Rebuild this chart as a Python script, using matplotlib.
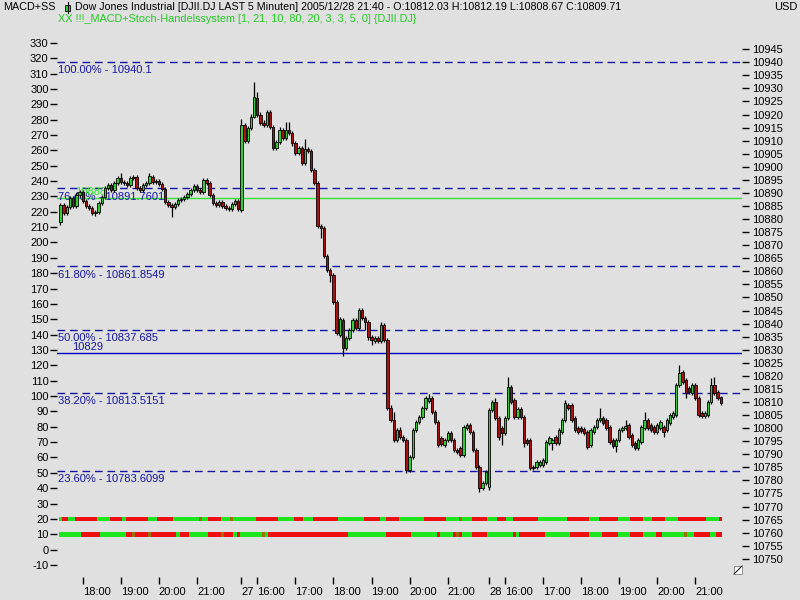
import numpy as np
import matplotlib
matplotlib.use("Agg")
import matplotlib.pyplot as plt
from matplotlib.patches import Rectangle
from matplotlib.lines import Line2D

# ---- price data, 5 minute bars (27.12 afternoon .. 28.12 21:40) ----
bar_open = [
    # day 1
    10878.9, 10885.4, 10882.3, 10884.6, 10888.1, 10885.0, 10889.2, 10890.4, 10886.9, 10885.0,
    10884.2, 10882.3, 10882.7, 10886.2, 10888.5, 10891.9, 10893.0, 10891.1, 10893.8, 10895.7,
    10894.2, 10893.8, 10893.0, 10895.7, 10896.1, 10891.9, 10891.1, 10893.0, 10893.8, 10896.1,
    10894.2, 10894.6, 10893.4, 10891.5, 10886.5, 10885.4, 10884.6, 10885.8, 10887.3, 10887.7,
    10888.5, 10889.6, 10891.1, 10892.7, 10891.1, 10890.4, 10895.0, 10893.8, 10889.2, 10886.2,
    10885.4, 10886.5, 10885.0, 10884.2, 10883.9, 10885.8, 10886.9,
    # day 2
    10883.5, 10916.0, 10909.9, 10914.9, 10919.1, 10926.3, 10919.8, 10916.8, 10916.0, 10921.0,
    10915.2, 10907.2, 10909.5, 10914.1, 10911.0, 10914.1, 10913.0, 10909.1, 10905.3, 10907.2,
    10901.5, 10906.8, 10906.1, 10898.8, 10893.8, 10877.4, 10876.6, 10865.9, 10860.5, 10858.6,
    10848.3, 10835.6, 10841.4, 10830.7, 10834.5, 10837.6, 10841.4, 10838.3, 10845.2, 10842.2,
    10840.6, 10834.9, 10833.4, 10834.5, 10833.4, 10839.5, 10833.7, 10807.7, 10803.1, 10795.5,
    10799.3, 10796.6, 10795.5, 10784.0, 10789.0, 10799.3, 10802.4, 10804.3, 10807.7, 10810.4,
    10811.5, 10806.2, 10802.4, 10796.2, 10793.5, 10795.5, 10798.1, 10795.5, 10791.6, 10792.4,
    10789.7, 10800.1, 10801.2, 10798.5, 10791.6, 10785.1, 10777.1, 10779.0,
    # day 3
    10777.5, 10806.9, 10810.0, 10803.9, 10800.1, 10798.1, 10803.9, 10815.7, 10810.8, 10804.3,
    10807.3, 10804.3, 10795.5, 10795.5, 10785.1, 10785.1, 10785.9, 10785.9, 10787.0, 10794.3,
    10794.3, 10796.6, 10794.3, 10798.5, 10803.1, 10808.9, 10808.9, 10803.9, 10800.1, 10800.1,
    10799.7, 10798.5, 10793.5, 10798.5, 10800.4, 10803.1, 10803.9, 10803.1, 10800.4, 10795.5,
    10793.2, 10795.5, 10799.3, 10800.1, 10801.2, 10797.4, 10794.3, 10792.4, 10794.7, 10800.1,
    10803.1, 10801.2, 10800.4, 10798.5, 10800.1, 10800.4, 10799.3, 10802.0, 10804.3, 10805.0,
    10816.5, 10821.5, 10818.4, 10815.4, 10813.4, 10816.5, 10811.5, 10805.8, 10804.7, 10805.0,
    10810.0, 10816.5, 10813.8, 10812.03,
]
bar_high = [
    10886.2, 10886.2, 10885.4, 10888.8, 10888.8, 10890.0, 10891.1, 10891.1, 10887.7, 10885.8,
    10885.0, 10883.5, 10886.9, 10889.2, 10892.7, 10893.8, 10893.8, 10894.6, 10896.5, 10897.6,
    10895.0, 10894.6, 10896.5, 10896.9, 10896.9, 10892.7, 10893.8, 10894.6, 10897.6, 10896.9,
    10895.3, 10895.3, 10894.2, 10892.3, 10887.3, 10886.2, 10886.5, 10888.1, 10888.5, 10889.2,
    10890.4, 10891.9, 10893.4, 10893.4, 10891.9, 10895.7, 10895.7, 10894.6, 10890.0, 10886.9,
    10887.3, 10887.3, 10885.8, 10885.0, 10886.5, 10887.7, 10887.7,
    10918.3, 10916.8, 10915.6, 10920.2, 10932.5, 10928.6, 10921.0, 10917.9, 10921.8, 10921.8,
    10916.0, 10910.3, 10915.2, 10914.9, 10917.2, 10917.2, 10913.7, 10909.9, 10908.0, 10908.0,
    10910.7, 10907.6, 10906.8, 10899.6, 10894.6, 10878.1, 10877.4, 10866.7, 10861.3, 10859.4,
    10849.0, 10842.5, 10842.2, 10835.3, 10838.3, 10842.2, 10842.2, 10846.0, 10846.0, 10842.9,
    10841.4, 10835.6, 10835.3, 10835.3, 10840.6, 10840.2, 10834.5, 10808.9, 10806.2, 10800.1,
    10800.4, 10797.4, 10796.2, 10789.7, 10800.1, 10803.1, 10805.0, 10808.5, 10812.3, 10813.1,
    10812.3, 10806.9, 10803.1, 10797.0, 10796.2, 10798.9, 10798.9, 10796.2, 10792.4, 10793.2,
    10801.2, 10802.0, 10802.0, 10799.3, 10792.4, 10785.9, 10779.8, 10784.0,
    10807.7, 10810.8, 10811.5, 10804.7, 10800.8, 10804.7, 10819.6, 10816.5, 10811.5, 10808.1,
    10808.1, 10805.0, 10796.2, 10796.2, 10785.9, 10787.8, 10787.8, 10788.6, 10795.5, 10797.0,
    10796.2, 10797.4, 10800.1, 10803.9, 10810.8, 10809.6, 10809.6, 10804.7, 10800.8, 10800.8,
    10800.4, 10799.3, 10800.1, 10801.2, 10803.9, 10807.7, 10804.7, 10803.9, 10801.2, 10796.2,
    10796.2, 10800.1, 10800.8, 10803.1, 10802.0, 10798.1, 10795.1, 10796.2, 10801.2, 10806.2,
    10803.9, 10802.0, 10801.2, 10802.0, 10803.1, 10801.2, 10803.9, 10805.8, 10806.6, 10817.3,
    10824.2, 10822.2, 10819.2, 10816.1, 10817.3, 10817.3, 10812.3, 10806.6, 10806.6, 10810.8,
    10819.2, 10819.6, 10814.6, 10812.19,
]
bar_low = [
    10877.7, 10881.6, 10881.6, 10883.9, 10884.2, 10884.2, 10888.5, 10886.2, 10884.2, 10883.5,
    10881.6, 10881.2, 10882.0, 10885.4, 10887.7, 10891.1, 10890.4, 10890.4, 10893.0, 10893.4,
    10893.0, 10892.3, 10892.3, 10895.0, 10891.1, 10890.4, 10890.4, 10892.3, 10893.0, 10893.4,
    10893.4, 10892.7, 10890.8, 10885.8, 10884.6, 10880.8, 10883.9, 10885.0, 10886.5, 10886.9,
    10887.7, 10888.8, 10890.4, 10890.4, 10889.6, 10889.6, 10893.0, 10888.5, 10885.4, 10884.6,
    10884.6, 10884.2, 10883.5, 10883.1, 10883.1, 10885.0, 10883.1,
    10882.7, 10909.1, 10909.1, 10914.1, 10918.7, 10919.1, 10916.0, 10915.2, 10915.2, 10914.5,
    10906.4, 10906.4, 10908.7, 10910.3, 10910.3, 10912.2, 10908.0, 10904.5, 10904.5, 10900.7,
    10900.7, 10905.3, 10898.0, 10893.0, 10876.6, 10872.8, 10865.1, 10859.8, 10855.9, 10847.5,
    10835.6, 10834.9, 10827.6, 10829.9, 10833.7, 10836.8, 10837.6, 10837.6, 10841.4, 10837.6,
    10833.7, 10831.8, 10832.6, 10832.6, 10832.6, 10833.0, 10806.9, 10802.4, 10794.7, 10794.7,
    10795.8, 10794.7, 10782.8, 10783.2, 10788.2, 10798.5, 10801.6, 10803.5, 10806.9, 10809.6,
    10805.4, 10801.6, 10792.8, 10793.2, 10792.8, 10794.7, 10794.7, 10790.9, 10790.1, 10789.0,
    10789.0, 10799.3, 10797.8, 10790.9, 10784.4, 10775.6, 10776.3, 10778.2,
    10776.3, 10806.2, 10803.1, 10795.5, 10793.5, 10797.4, 10803.1, 10809.2, 10803.5, 10803.5,
    10803.5, 10792.8, 10793.5, 10784.0, 10784.0, 10784.4, 10785.1, 10785.1, 10786.3, 10793.5,
    10791.6, 10793.5, 10793.5, 10797.8, 10802.4, 10806.9, 10802.4, 10798.5, 10797.8, 10798.1,
    10797.4, 10792.0, 10792.8, 10797.8, 10799.7, 10802.4, 10801.2, 10799.3, 10793.9, 10792.4,
    10790.9, 10794.7, 10798.5, 10799.3, 10795.8, 10792.8, 10791.6, 10791.6, 10793.9, 10799.3,
    10799.3, 10798.5, 10797.8, 10797.8, 10799.3, 10796.6, 10798.5, 10801.2, 10803.5, 10804.3,
    10815.7, 10816.9, 10811.5, 10813.1, 10812.7, 10810.8, 10804.3, 10803.9, 10803.9, 10804.3,
    10809.2, 10812.7, 10810.8, 10808.67,
]
bar_close = [
    10885.4, 10882.3, 10884.6, 10888.1, 10885.0, 10889.2, 10890.4, 10886.9, 10885.0, 10884.2,
    10882.3, 10882.7, 10886.2, 10888.5, 10891.9, 10893.0, 10891.1, 10893.8, 10895.7, 10894.2,
    10893.8, 10893.0, 10895.7, 10896.1, 10891.9, 10891.1, 10893.0, 10893.8, 10896.5, 10894.2,
    10894.6, 10893.4, 10891.5, 10886.5, 10885.4, 10884.6, 10885.8, 10887.3, 10887.7, 10888.5,
    10889.6, 10891.1, 10892.7, 10891.1, 10890.4, 10895.0, 10893.8, 10889.2, 10886.2, 10885.4,
    10886.5, 10885.0, 10884.2, 10883.9, 10885.8, 10886.9, 10883.9,
    10916.0, 10909.9, 10914.9, 10919.1, 10926.7, 10919.8, 10916.8, 10916.0, 10921.0, 10915.2,
    10907.2, 10909.5, 10914.1, 10911.0, 10914.1, 10913.0, 10909.1, 10905.3, 10907.2, 10901.5,
    10906.8, 10906.1, 10898.8, 10893.8, 10877.4, 10876.6, 10865.9, 10860.5, 10858.6, 10848.3,
    10836.4, 10841.8, 10830.7, 10834.5, 10837.6, 10841.4, 10838.3, 10845.2, 10842.2, 10840.6,
    10834.9, 10833.7, 10834.5, 10833.4, 10839.5, 10833.7, 10807.7, 10803.1, 10795.5, 10799.3,
    10796.6, 10795.5, 10784.0, 10789.0, 10799.3, 10802.4, 10804.3, 10807.7, 10811.5, 10811.5,
    10806.2, 10802.4, 10793.5, 10793.9, 10795.5, 10798.1, 10795.5, 10791.6, 10790.9, 10789.7,
    10800.4, 10801.2, 10798.5, 10791.6, 10785.1, 10777.1, 10779.0, 10783.2,
    10806.9, 10810.0, 10803.9, 10796.6, 10798.1, 10803.9, 10815.7, 10810.0, 10804.3, 10807.3,
    10804.3, 10794.3, 10794.3, 10784.7, 10784.7, 10787.0, 10787.0, 10787.8, 10794.7, 10796.2,
    10795.5, 10794.3, 10799.3, 10803.1, 10809.6, 10807.7, 10803.1, 10799.3, 10798.5, 10798.9,
    10798.1, 10792.8, 10799.3, 10800.4, 10803.1, 10803.9, 10802.0, 10800.1, 10794.7, 10793.2,
    10795.5, 10799.3, 10800.1, 10800.8, 10796.6, 10793.5, 10792.4, 10795.5, 10800.4, 10803.1,
    10800.1, 10799.3, 10798.5, 10801.2, 10802.4, 10798.5, 10803.1, 10805.0, 10805.8, 10816.5,
    10821.1, 10817.7, 10813.4, 10813.8, 10816.5, 10811.5, 10805.0, 10804.7, 10805.8, 10810.0,
    10816.5, 10813.4, 10811.5, 10809.71,
]

# time axis ticks (bar index) and labels
tick_bars = [7, 19, 31, 43, 57, 62, 74, 86, 98, 110, 122, 135, 140, 152, 164, 176, 188, 200]
tick_labels = ["18:00", "19:00", "20:00", "21:00", "27", "16:00", "17:00", "18:00", "19:00",
               "20:00", "21:00", "28", "16:00", "17:00", "18:00", "19:00", "20:00", "21:00"]

# fibonacci retracement levels
fib_pcts = ["100.00%", "76.40%", "61.80%", "50.00%", "38.20%", "23.60%"]
fib_levels = [10940.1, 10891.7601, 10861.8549, 10837.685, 10813.5151, 10783.6099]
blue_level = 10828.6
blue_text = "10829"
green_level = 10888.1
green_text = "10888"

# signal strips of the MACD+Stoch system (colour, number of bars)
stoch_runs = [  # row at 20
    ("g", 1), ("r", 2), ("g", 2), ("r", 7), ("g", 4), ("r", 4), ("g", 1), ("r", 7), ("g", 3),
    ("r", 5), ("g", 8), ("o", 1), ("g", 2), ("r", 4), ("g", 3), ("o", 1), ("g", 7), ("r", 7),
    ("g", 5), ("r", 3), ("g", 3), ("r", 8), ("g", 8), ("r", 5), ("g", 2), ("r", 4), ("g", 8),
    ("r", 7), ("g", 4), ("o", 1), ("g", 3), ("r", 5), ("g", 3), ("r", 3), ("g", 2), ("r", 8),
    ("g", 9), ("r", 7), ("g", 3), ("r", 6), ("g", 4), ("r", 4), ("g", 3), ("r", 4), ("g", 4),
    ("r", 9), ("g", 4), ("r", 1),
]
macd_runs = [  # row at 10
    ("g", 7), ("r", 6), ("g", 8), ("r", 2), ("o", 1), ("r", 4), ("o", 1), ("r", 8), ("g", 1),
    ("r", 3), ("g", 6), ("r", 4), ("o", 1), ("r", 3), ("g", 1), ("r", 1), ("g", 7), ("o", 1),
    ("g", 1), ("r", 25), ("g", 12), ("r", 8), ("g", 8), ("r", 1), ("g", 4), ("r", 1), ("o", 1),
    ("r", 1), ("g", 3), ("r", 5), ("g", 8), ("r", 1), ("g", 1), ("r", 8), ("g", 8), ("r", 6),
    ("g", 4), ("r", 5), ("g", 4), ("r", 4), ("g", 4), ("r", 2), ("g", 7), ("o", 1), ("g", 2),
    ("r", 5), ("g", 2), ("r", 2),
]

BG = "#e0e0e0"
UP = "#33cc33"
DOWN = "#aa1111"
FIB = "#1414a8"
STRIP = {"g": "#1ee61e", "r": "#ee1010", "o": "#9a7000"}

plt.rcParams["font.family"] = ["Liberation Sans", "DejaVu Sans"]
plt.rcParams["font.size"] = 8
plt.rcParams["axes.unicode_minus"] = False


# left scale (indicator) <-> right scale (price)
def p2l(p):
    return 51.2 + 1.702 * (np.asarray(p) - 10783.61)


def l2p(v):
    return 10783.61 + (np.asarray(v) - 51.2) / 1.702


fig = plt.figure(figsize=(8, 6), dpi=100, facecolor=BG)
ax = fig.add_axes([57 / 800, 23 / 600, 685 / 800, 542 / 600])
ax.set_facecolor(BG)
ax.set_xlim(-1.1, 214.7)
ax.set_ylim(10743.05, 10950.43)
for s in ax.spines.values():
    s.set_visible(False)

# fib lines + labels
for pct, lev in zip(fib_pcts, fib_levels):
    ax.axhline(lev, color=FIB, lw=1, dashes=(5.5, 3.5), zorder=1)
    ax.annotate(f"{pct} - {lev}", xy=(0.002, lev), xycoords=ax.get_yaxis_transform(),
                xytext=(0, -2.5), textcoords="offset points", va="top", ha="left",
                color=FIB, fontsize=8, zorder=2)

ax.axhline(blue_level, color="#0000c0", lw=1, zorder=1)
ax.annotate(blue_text, xy=(0.022, blue_level), xycoords=ax.get_yaxis_transform(),
            xytext=(0, 1), textcoords="offset points", va="bottom", ha="left",
            color=FIB, fontsize=8)
ax.axhline(green_level, color="#33e033", lw=1, zorder=1)
ax.annotate(green_text, xy=(0.026, green_level), xycoords=ax.get_yaxis_transform(),
            xytext=(0, 1), textcoords="offset points", va="bottom", ha="left",
            color="#33dd33", fontsize=8)

# candles
o = np.array(bar_open)
h = np.array(bar_high)
lo = np.array(bar_low)
c = np.array(bar_close)
x = np.arange(len(o))
up = c >= o
ax.vlines(x, lo, h, color="black", lw=0.9, zorder=3)
ax.bar(x, np.maximum(np.abs(c - o), 0.35), bottom=np.minimum(o, c), width=0.75,
       color=np.where(up, UP, DOWN), edgecolor="black", linewidth=0.6, zorder=4)


# signal strips
def draw_strip(runs, level):
    start = 0
    for col, n in runs:
        ax.broken_barh([(start - 0.5, n)], (float(l2p(level)) - 0.9, 1.8),
                       facecolors=STRIP[col], linewidth=0, zorder=3)
        start += n


draw_strip(stoch_runs, 20)
draw_strip(macd_runs, 10)

# axes ticks
ax.yaxis.tick_right()
ax.set_yticks(np.arange(10750, 10946, 5))
ax.tick_params(axis="y", direction="out", length=5, width=1, pad=2, labelsize=8)
ax.set_xticks(tick_bars)
ax.set_xticklabels(tick_labels, ha="left")
ax.tick_params(axis="x", direction="out", length=5, width=1, pad=2, labelsize=8)

sec = ax.secondary_yaxis("left", functions=(p2l, l2p))
sec.set_yticks(np.arange(-10, 331, 10))
sec.tick_params(direction="out", length=5, width=1, pad=1, labelsize=8)
sec.spines["left"].set_visible(False)

# header
fig.text(3 / 800, 1 - 7 / 600, "MACD+SS", va="center", ha="left", fontsize=7.8)
fig.add_artist(Line2D([67.5 / 800, 67.5 / 800], [1 - 2 / 600, 1 - 13 / 600],
                      transform=fig.transFigure, color="black", lw=0.8))
fig.add_artist(Rectangle((65 / 800, 1 - 11 / 600), 5 / 800, 6 / 600, transform=fig.transFigure,
                         facecolor=UP, edgecolor="black", lw=0.6))
fig.text(75 / 800, 1 - 7 / 600,
         "Dow Jones Industrial [DJII.DJ LAST 5 Minuten] 2005/12/28 21:40 - "
         "O:10812.03 H:10812.19 L:10808.67 C:10809.71",
         va="center", ha="left", fontsize=7.7)
fig.text(58 / 800, 1 - 19 / 600,
         "XX !!!_MACD+Stoch-Handelssystem [1, 21, 10, 80, 20, 3, 3, 5, 0] {DJII.DJ}",
         va="center", ha="left", fontsize=7.8, color="#22cc22")
fig.text(774 / 800, 1 - 7 / 600, "USD", va="center", ha="left", fontsize=8)

# little resize grip bottom right
fig.add_artist(Rectangle((734 / 800, 1 - 574 / 600), 8 / 800, 8 / 600, transform=fig.transFigure,
                         facecolor="white", edgecolor="#808080", lw=0.6))
fig.add_artist(Line2D([734 / 800, 742 / 800], [1 - 574 / 600, 1 - 566 / 600],
                      transform=fig.transFigure, color="black", lw=0.7))

fig.savefig("out.png", dpi=100, facecolor=BG)
